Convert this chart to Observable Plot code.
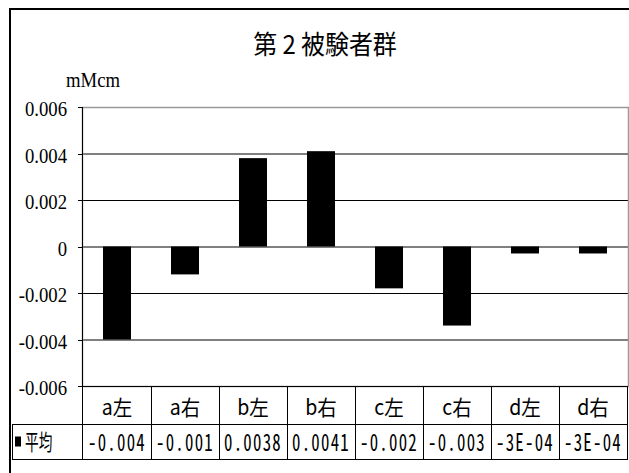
<!DOCTYPE html>
<html>
<head>
<meta charset="utf-8">
<script src="https://cdn.jsdelivr.net/npm/d3@7"></script>
<script src="https://cdn.jsdelivr.net/npm/@observablehq/plot@0.6"></script>
<style>
  html, body { margin: 0; padding: 0; background: #fff; }
  #wrap { position: relative; width: 629px; height: 473px; overflow: hidden; background: #fff; }
  #frame { position: absolute; left: 9px; top: 8px; width: 800px; height: 800px; border: 2px solid #000; box-sizing: border-box; }
  #title { position: absolute; left: 0; width: 650px; top: 24px; text-align: center; font-family: "Noto Sans CJK JP", "Noto Sans", sans-serif; font-size: 26px; line-height: 38px; color: #000; transform: scaleX(0.92); transform-origin: 325px 0; }
  #unit { position: absolute; left: 66px; top: 65px; font-family: "Liberation Serif", serif; font-size: 22px; line-height: 30px; color: #000; transform: scaleX(0.85); transform-origin: 0 0; }
  #chart { position: absolute; left: 0; top: 0; }
  svg text.serif { font-family: "Liberation Serif", serif; font-size: 22px; }
  svg text.cjk { font-family: "Noto Sans CJK JP", sans-serif; }
  svg text.mono { font-family: "Noto Sans Mono CJK JP", "DejaVu Sans Mono", monospace; }
</style>
</head>
<body>
<div id="wrap">
  <div id="frame"></div>
  <div id="chart"></div>
  <div id="title">第 2 被験者群</div>
  <div id="unit">mMcm</div>
</div>
<script>
// Data
const categories = ["a左", "a右", "b左", "b右", "c左", "c右", "d左", "d右"];
const values = [-0.0040, -0.0012, 0.0038, 0.0041, -0.0018, -0.0034, -0.0003, -0.0003];
const tableLabels = ["-0.004", "-0.001", "0.0038", "0.0041", "-0.002", "-0.003", "-3E-04", "-3E-04"];
const seriesName = "平均";
const yTicks = [-0.006, -0.004, -0.002, 0, 0.002, 0.004, 0.006];
const yTickLabels = ["-0.006", "-0.004", "-0.002", "0", "0.002", "0.004", "0.006"];

const data = categories.map((c, i) => ({cat: c, value: values[i], label: tableLabels[i]}));

// Y axis: tick marks + condensed serif labels
function yAxisMark(index, scales, vals, dims) {
  const y = scales.y;
  const left = dims.marginLeft;
  const g = d3.create("svg:g");
  yTicks.forEach((t, i) => {
    const yy = Math.round(y(t)) + 0.5;
    g.append("line").attr("x1", left - 4).attr("x2", left).attr("y1", yy).attr("y2", yy)
      .attr("stroke", "#000");
    g.append("text")
      .attr("class", "serif")
      .attr("transform", `translate(${left - 15},${y(t) + 2}) scale(0.85,1)`)
      .attr("text-anchor", "end").attr("dy", "0.32em")
      .attr("fill", "#000")
      .text(yTickLabels[i]);
  });
  return g.node();
}

function tableMark(index, scales, vals, dims) {
  const x = scales.x;
  const step = x(categories[1]) - x(categories[0]);
  const left = dims.marginLeft;
  const right = dims.width - dims.marginRight;
  const top = dims.height - dims.marginBottom;
  const r1 = top + 38;
  const r2 = r1 + 35;
  const legendLeft = 12;
  const g = d3.create("svg:g");
  const line = (x1, y1, x2, y2) => g.append("line").attr("x1", x1).attr("y1", y1).attr("x2", x2).attr("y2", y2)
    .attr("stroke", "#000").attr("stroke-width", 1).attr("shape-rendering", "crispEdges");
  line(left, top, right, top);
  line(legendLeft, r1, right, r1);
  line(legendLeft, r2, right, r2);
  line(left, dims.marginTop, left, r2);
  categories.forEach((c) => {
    const xe = x(c) + step;
    line(xe, top, xe, r2);
  });
  line(legendLeft, r1, legendLeft, r2);
  categories.forEach((c) => {
    g.append("text")
      .attr("class", "cjk")
      .attr("transform", `translate(${x(c) + step / 2},${(top + r1) / 2 + 2}) scale(0.93,1)`)
      .attr("text-anchor", "middle").attr("dy", "0.36em")
      .style("font-size", "21px")
      .text(c);
  });
  data.forEach((d) => {
    g.append("text")
      .attr("class", "mono")
      .attr("transform", `translate(${x(d.cat) + step / 2},${(r1 + r2) / 2 + 1}) scale(0.84,1.2)`)
      .attr("text-anchor", "middle").attr("dy", "0.36em")
      .style("font-size", "20px")
      .attr("letter-spacing", 1.5)
      .text(d.label);
  });
  g.append("rect").attr("x", 15).attr("y", (r1 + r2) / 2 - 5).attr("width", 6).attr("height", 10).attr("fill", "#000");
  g.append("text")
    .attr("class", "cjk")
    .attr("transform", `translate(25,${(r1 + r2) / 2 + 1}) scale(0.62,1)`)
    .attr("text-anchor", "start").attr("dy", "0.36em")
    .style("font-size", "22px")
    .text(seriesName);
  return g.node();
}

const chart = Plot.plot({
  width: 629,
  height: 473,
  marginLeft: 82,
  marginRight: 1,
  marginTop: 107,
  marginBottom: 87,
  style: {background: "transparent", overflow: "visible"},
  x: {domain: categories, padding: 0, axis: null},
  y: {domain: [-0.006, 0.006], axis: null},
  marks: [
    Plot.gridY(yTicks, {stroke: "#000", strokeOpacity: 1, strokeWidth: 1}),
    Plot.frame({stroke: "#999", strokeWidth: 1.5}),
    Plot.barY(data, {x: "cat", y: "value", fill: "#000", insetLeft: 20, insetRight: 20}),
    yAxisMark,
    tableMark
  ]
});
document.getElementById("chart").appendChild(chart);
</script>
</body>
</html>
